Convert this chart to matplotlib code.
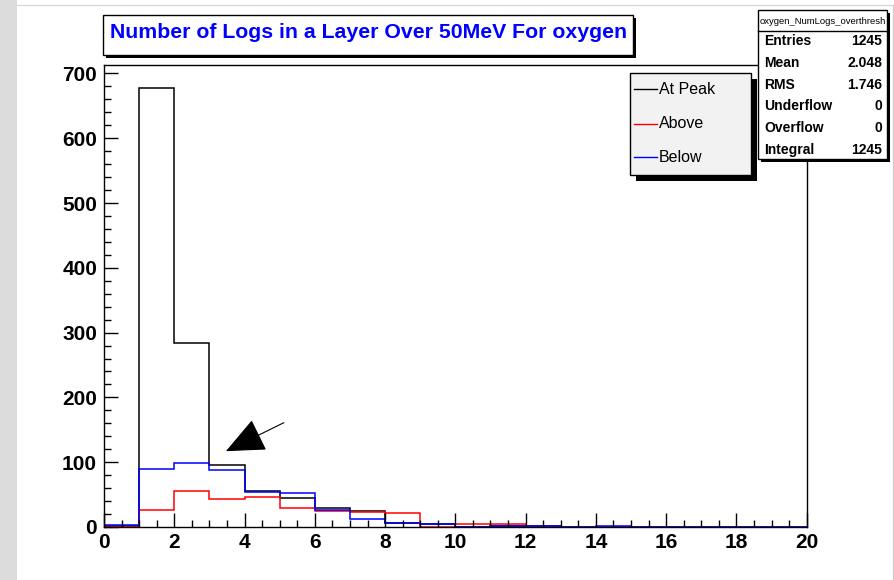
import numpy as np
import matplotlib
matplotlib.use("Agg")
import matplotlib.pyplot as plt
from matplotlib.patches import Rectangle
from matplotlib.lines import Line2D
from matplotlib.ticker import MultipleLocator

# Layer log counts over 50 MeV, one value per unit bin from 0 to 20
bin_edges = np.arange(0, 21)
at_peak = [2, 678, 284, 96, 55, 45, 29, 24, 6, 4, 0, 1, 1, 0, 0, 0, 0, 0, 0, 0]
above = [0, 26, 56, 43, 47, 29, 25, 23, 22, 0, 4, 4, 0, 0, 0, 0, 0, 0, 0, 0]
below = [3, 90, 98, 88, 54, 52, 27, 12, 6, 4, 0, 1, 1, 0, 1, 0, 0, 0, 0, 0]

series_names = ["At Peak", "Above", "Below"]
series_colors = ["black", "#ff0000", "#0000ff"]

title = "Number of Logs in a Layer Over 50MeV For oxygen"
stats_name = "oxygen_NumLogs_overthresh"
stats_rows = [("Entries", "1245"), ("Mean", "2.048"), ("RMS", "1.746"),
              ("Underflow", "0"), ("Overflow", "0"), ("Integral", "1245")]

plt.rcParams["font.family"] = "Liberation Sans"

W, H = 895, 580
fig = plt.figure(figsize=(W / 100, H / 100), dpi=100)


def fx(x):
    return x / W


def fy(y):
    return 1 - y / H


def box(x0, y0, x1, y1, face="white", shadow=4, lw=1.0, z=5):
    # frame with a dark drop shadow, coordinates in pixels from top-left
    if shadow:
        fig.patches.append(Rectangle((fx(x0 + shadow), fy(y1 + shadow)),
                                     fx(x1 - x0), (y1 - y0) / H,
                                     transform=fig.transFigure, facecolor="black",
                                     edgecolor="none", zorder=z))
    fig.patches.append(Rectangle((fx(x0), fy(y1)), fx(x1 - x0), (y1 - y0) / H,
                                 transform=fig.transFigure, facecolor=face,
                                 edgecolor="black", linewidth=lw, zorder=z + 0.1))


# window border decorations
fig.patches.append(Rectangle((0, 0), fx(17), 1, transform=fig.transFigure,
                             facecolor="#dcdcdc", edgecolor="none"))
fig.lines.append(Line2D([fx(17), 1], [fy(5), fy(5)], transform=fig.transFigure,
                        color="#d8d8d8", linewidth=1))
fig.lines.append(Line2D([fx(893), fx(893)], [0, fy(5)], transform=fig.transFigure,
                        color="#cfcfcf", linewidth=1))

ax = fig.add_axes([fx(104), fy(527), fx(806.7 - 104), (527 - 65) / H])
for vals, color in zip([at_peak, above, below], series_colors):
    ax.stairs(vals, bin_edges, color=color, linewidth=1.1)

ax.set_xlim(0, 20)
ax.set_ylim(0, 713)
ax.xaxis.set_major_locator(MultipleLocator(2))
ax.xaxis.set_minor_locator(MultipleLocator(0.5))
ax.yaxis.set_major_locator(MultipleLocator(100))
ax.yaxis.set_minor_locator(MultipleLocator(20))
ax.tick_params(which="both", direction="in", top=False, right=False, width=1)
ax.tick_params(which="major", length=10, labelsize=15)
ax.tick_params(which="minor", length=5)
ax.tick_params(axis="x", which="major", pad=4)
ax.tick_params(axis="y", which="major", pad=5)
for lbl in ax.get_xticklabels() + ax.get_yticklabels():
    lbl.set_fontweight("bold")
for sp in ax.spines.values():
    sp.set_linewidth(1)

# arrow pointing at the low-multiplicity bins
ax.annotate("", xy=(3.47, 117), xytext=(5.12, 161),
            arrowprops=dict(arrowstyle="-|>,head_length=2.5,head_width=1.1",
                            mutation_scale=10, color="black", lw=0.8,
                            shrinkA=0, shrinkB=0))

# title box
box(103, 15, 633, 55, shadow=3)
fig.text(fx(369), fy(33), title, color="#0000ff", fontsize=15.3,
         fontweight="bold", ha="center", va="center", zorder=10)

# legend box
box(630, 73, 751, 175, face="#f2f2f2", shadow=6)
for i, (name, color) in enumerate(zip(series_names, series_colors)):
    ly = [89, 124, 157][i]
    fig.lines.append(Line2D([fx(634), fx(657)], [fy(ly), fy(ly)],
                            transform=fig.transFigure, color=color,
                            linewidth=1, zorder=10))
    fig.text(fx(659), fy(ly), name, fontsize=11.5, ha="left", va="center",
             zorder=10)

# statistics box
box(758, 10, 887, 159, shadow=3)
fig.lines.append(Line2D([fx(758), fx(887)], [fy(31), fy(31)],
                        transform=fig.transFigure, color="black",
                        linewidth=1, zorder=10))
fig.text(fx(822.5), fy(21), stats_name, fontsize=6.8, ha="center", va="center",
         zorder=10)
for i, (key, val) in enumerate(stats_rows):
    ry = 41 + i * 21.8
    fig.text(fx(764), fy(ry), key, fontsize=10, fontweight="bold",
             ha="left", va="center", zorder=10)
    fig.text(fx(882), fy(ry), val, fontsize=10, fontweight="bold",
             ha="right", va="center", zorder=10)

fig.savefig("out.png", dpi=100)
